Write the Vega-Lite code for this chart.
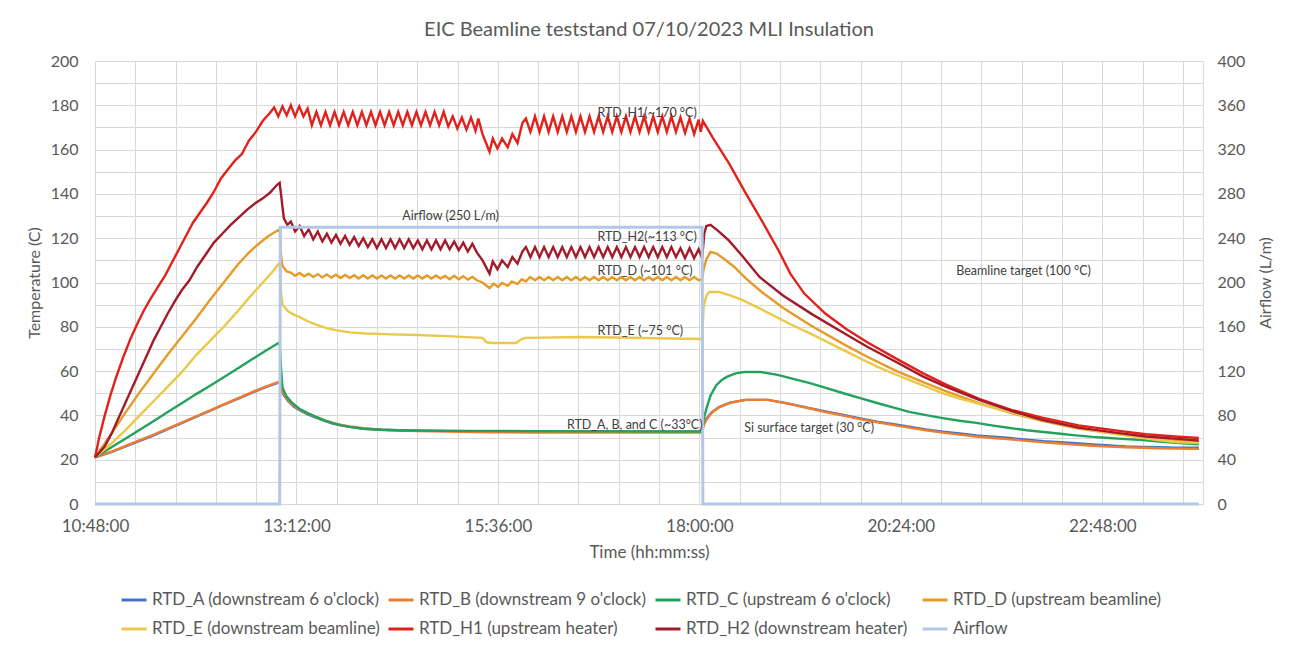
{
  "$schema": "https://vega.github.io/schema/vega-lite/v6.json",
  "autosize": "none",
  "width": 1108,
  "height": 443,
  "padding": {"left": 95, "top": 61, "right": 89, "bottom": 143},
  "background": "white",
  "title": {"text": "EIC Beamline teststand 07/10/2023 MLI Insulation", "font": "Lato", "fontSize": 20, "fontWeight": "normal", "color": "#595959", "anchor": "middle", "frame": "group", "offset": 13},
  "config": {"font": "Lato", "view": {"stroke": null}},
  "datasets": {
    "series": [
      {"s":"A","t":"10:48:00","v":21},{"s":"A","t":"11:00:00","v":23.5},{"s":"A","t":"11:10:00","v":26},{"s":"A","t":"11:20:00","v":28.5},{"s":"A","t":"11:30:00","v":31},{"s":"A","t":"11:40:00","v":33.8},{"s":"A","t":"11:50:00","v":36.5},{"s":"A","t":"12:00:00","v":39.3},{"s":"A","t":"12:10:00","v":42},{"s":"A","t":"12:20:00","v":44.8},{"s":"A","t":"12:30:00","v":47.5},{"s":"A","t":"12:40:00","v":50.2},{"s":"A","t":"12:50:00","v":52.8},{"s":"A","t":"13:00:00","v":55},{"s":"A","t":"13:01:00","v":53},{"s":"A","t":"13:02:00","v":50},{"s":"A","t":"13:06:00","v":46.5},{"s":"A","t":"13:10:00","v":44},{"s":"A","t":"13:14:00","v":42.5},{"s":"A","t":"13:20:00","v":40.5},{"s":"A","t":"13:26:00","v":39},{"s":"A","t":"13:32:00","v":37.5},{"s":"A","t":"13:38:00","v":36.3},{"s":"A","t":"13:44:00","v":35.5},{"s":"A","t":"13:50:00","v":34.8},{"s":"A","t":"14:00:00","v":34},{"s":"A","t":"14:13:00","v":33.5},{"s":"A","t":"14:30:00","v":33.2},{"s":"A","t":"15:00:00","v":33},{"s":"A","t":"15:30:00","v":32.8},{"s":"A","t":"16:00:00","v":32.8},{"s":"A","t":"17:00:00","v":32.7},{"s":"A","t":"18:02:00","v":32.6},{"s":"A","t":"18:03:00","v":36},{"s":"A","t":"18:05:00","v":38.5},{"s":"A","t":"18:09:00","v":41.5},{"s":"A","t":"18:14:00","v":43.8},{"s":"A","t":"18:22:00","v":45.8},{"s":"A","t":"18:33:00","v":47},{"s":"A","t":"18:49:00","v":47},{"s":"A","t":"19:04:00","v":45.3},{"s":"A","t":"19:19:00","v":43.3},{"s":"A","t":"19:31:00","v":41.7},{"s":"A","t":"19:43:00","v":40.2},{"s":"A","t":"19:55:00","v":38.6},{"s":"A","t":"20:07:00","v":37.2},{"s":"A","t":"20:19:00","v":36},{"s":"A","t":"20:30:00","v":34.9},{"s":"A","t":"20:42:00","v":33.7},{"s":"A","t":"20:54:00","v":32.7},{"s":"A","t":"21:06:00","v":31.8},{"s":"A","t":"21:18:00","v":31},{"s":"A","t":"21:30:00","v":30.4},{"s":"A","t":"21:42:00","v":29.8},{"s":"A","t":"21:54:00","v":29},{"s":"A","t":"22:06:00","v":28.3},{"s":"A","t":"22:18:00","v":27.9},{"s":"A","t":"22:29:00","v":27.5},{"s":"A","t":"22:41:00","v":26.9},{"s":"A","t":"22:53:00","v":26.4},{"s":"A","t":"23:05:00","v":26},{"s":"A","t":"23:17:00","v":25.8},{"s":"A","t":"23:29:00","v":25.6},{"s":"A","t":"23:40:00","v":25.4},{"s":"A","t":"23:57:00","v":25.4},
      {"s":"B","t":"10:48:00","v":21},{"s":"B","t":"11:00:00","v":23.7},{"s":"B","t":"11:10:00","v":26.2},{"s":"B","t":"11:20:00","v":28.8},{"s":"B","t":"11:30:00","v":31.3},{"s":"B","t":"11:40:00","v":34},{"s":"B","t":"11:50:00","v":36.7},{"s":"B","t":"12:00:00","v":39.5},{"s":"B","t":"12:10:00","v":42.2},{"s":"B","t":"12:20:00","v":45},{"s":"B","t":"12:30:00","v":47.7},{"s":"B","t":"12:40:00","v":50.4},{"s":"B","t":"12:50:00","v":53},{"s":"B","t":"13:00:00","v":55.3},{"s":"B","t":"13:01:00","v":53.5},{"s":"B","t":"13:02:00","v":50.5},{"s":"B","t":"13:06:00","v":47},{"s":"B","t":"13:10:00","v":44.3},{"s":"B","t":"13:14:00","v":42.8},{"s":"B","t":"13:20:00","v":40.8},{"s":"B","t":"13:26:00","v":39.3},{"s":"B","t":"13:32:00","v":37.8},{"s":"B","t":"13:38:00","v":36.6},{"s":"B","t":"13:44:00","v":35.7},{"s":"B","t":"13:50:00","v":35},{"s":"B","t":"14:00:00","v":34.2},{"s":"B","t":"14:13:00","v":33.5},{"s":"B","t":"14:30:00","v":33},{"s":"B","t":"15:00:00","v":32.7},{"s":"B","t":"15:30:00","v":32.4},{"s":"B","t":"16:00:00","v":32.3},{"s":"B","t":"17:00:00","v":32.3},{"s":"B","t":"18:02:00","v":32.3},{"s":"B","t":"18:03:00","v":35.5},{"s":"B","t":"18:05:00","v":38},{"s":"B","t":"18:09:00","v":41.3},{"s":"B","t":"18:14:00","v":43.6},{"s":"B","t":"18:22:00","v":45.7},{"s":"B","t":"18:33:00","v":47},{"s":"B","t":"18:49:00","v":47},{"s":"B","t":"19:04:00","v":45.2},{"s":"B","t":"19:19:00","v":43.1},{"s":"B","t":"19:31:00","v":41.4},{"s":"B","t":"19:43:00","v":39.9},{"s":"B","t":"19:55:00","v":38.3},{"s":"B","t":"20:07:00","v":36.9},{"s":"B","t":"20:19:00","v":35.6},{"s":"B","t":"20:30:00","v":34.5},{"s":"B","t":"20:42:00","v":33.3},{"s":"B","t":"20:54:00","v":32.2},{"s":"B","t":"21:06:00","v":31.3},{"s":"B","t":"21:18:00","v":30.5},{"s":"B","t":"21:30:00","v":29.8},{"s":"B","t":"21:42:00","v":29.2},{"s":"B","t":"21:54:00","v":28.5},{"s":"B","t":"22:06:00","v":27.8},{"s":"B","t":"22:18:00","v":27.3},{"s":"B","t":"22:29:00","v":26.8},{"s":"B","t":"22:41:00","v":26.3},{"s":"B","t":"22:53:00","v":25.9},{"s":"B","t":"23:05:00","v":25.6},{"s":"B","t":"23:17:00","v":25.4},{"s":"B","t":"23:29:00","v":25.2},{"s":"B","t":"23:40:00","v":25},{"s":"B","t":"23:57:00","v":24.9},
      {"s":"C","t":"10:48:00","v":21},{"s":"C","t":"11:00:00","v":25.7},{"s":"C","t":"11:10:00","v":29.6},{"s":"C","t":"11:20:00","v":33.5},{"s":"C","t":"11:30:00","v":37.5},{"s":"C","t":"11:40:00","v":41.5},{"s":"C","t":"11:50:00","v":45.5},{"s":"C","t":"12:00:00","v":49.5},{"s":"C","t":"12:10:00","v":53.3},{"s":"C","t":"12:20:00","v":57.2},{"s":"C","t":"12:30:00","v":61.2},{"s":"C","t":"12:40:00","v":65.2},{"s":"C","t":"12:50:00","v":69.2},{"s":"C","t":"13:00:00","v":73},{"s":"C","t":"13:01:00","v":61},{"s":"C","t":"13:02:00","v":52.5},{"s":"C","t":"13:05:00","v":48.5},{"s":"C","t":"13:09:00","v":45.6},{"s":"C","t":"13:14:00","v":43},{"s":"C","t":"13:20:00","v":41},{"s":"C","t":"13:26:00","v":39.3},{"s":"C","t":"13:32:00","v":37.8},{"s":"C","t":"13:38:00","v":36.5},{"s":"C","t":"13:44:00","v":35.5},{"s":"C","t":"13:50:00","v":34.8},{"s":"C","t":"14:00:00","v":34},{"s":"C","t":"14:13:00","v":33.5},{"s":"C","t":"14:30:00","v":33.2},{"s":"C","t":"15:00:00","v":33},{"s":"C","t":"15:30:00","v":33},{"s":"C","t":"16:00:00","v":32.9},{"s":"C","t":"17:00:00","v":32.8},{"s":"C","t":"18:02:00","v":32.7},{"s":"C","t":"18:03:00","v":38},{"s":"C","t":"18:05:00","v":43},{"s":"C","t":"18:08:00","v":49},{"s":"C","t":"18:12:00","v":53.5},{"s":"C","t":"18:16:00","v":56},{"s":"C","t":"18:20:00","v":57.5},{"s":"C","t":"18:26:00","v":59},{"s":"C","t":"18:32:00","v":59.6},{"s":"C","t":"18:44:00","v":59.6},{"s":"C","t":"18:56:00","v":58.3},{"s":"C","t":"19:07:00","v":56.5},{"s":"C","t":"19:19:00","v":54.6},{"s":"C","t":"19:31:00","v":52.3},{"s":"C","t":"19:43:00","v":50},{"s":"C","t":"19:55:00","v":47.8},{"s":"C","t":"20:07:00","v":45.6},{"s":"C","t":"20:19:00","v":43.5},{"s":"C","t":"20:30:00","v":41.6},{"s":"C","t":"20:42:00","v":40.1},{"s":"C","t":"20:54:00","v":38.8},{"s":"C","t":"21:06:00","v":37.6},{"s":"C","t":"21:18:00","v":36.6},{"s":"C","t":"21:30:00","v":35.4},{"s":"C","t":"21:42:00","v":34.3},{"s":"C","t":"21:54:00","v":33.3},{"s":"C","t":"22:06:00","v":32.5},{"s":"C","t":"22:18:00","v":31.7},{"s":"C","t":"22:29:00","v":31},{"s":"C","t":"22:41:00","v":30.3},{"s":"C","t":"22:53:00","v":29.8},{"s":"C","t":"23:05:00","v":29.3},{"s":"C","t":"23:17:00","v":28.9},{"s":"C","t":"23:29:00","v":28.2},{"s":"C","t":"23:40:00","v":27.6},{"s":"C","t":"23:57:00","v":27},
      {"s":"D","t":"10:48:00","v":21},{"s":"D","t":"11:00:00","v":32},{"s":"D","t":"11:10:00","v":41.5},{"s":"D","t":"11:20:00","v":50.5},{"s":"D","t":"11:30:00","v":59},{"s":"D","t":"11:40:00","v":67.5},{"s":"D","t":"11:50:00","v":75.5},{"s":"D","t":"12:00:00","v":83.5},{"s":"D","t":"12:10:00","v":92},{"s":"D","t":"12:20:00","v":100},{"s":"D","t":"12:30:00","v":108},{"s":"D","t":"12:38:00","v":113.5},{"s":"D","t":"12:45:00","v":117.5},{"s":"D","t":"12:52:00","v":121},{"s":"D","t":"13:00:00","v":124},{"s":"D","t":"13:01:00","v":112},{"s":"D","t":"13:02:00","v":107.5},{"s":"D","t":"13:05:00","v":105},{"s":"D","t":"13:08:00","v":104.5},{"s":"D","t":"13:11:00","v":103},{"s":"D","t":"13:14:15","v":104.3},{"s":"D","t":"13:17:30","v":102.8},{"s":"D","t":"13:20:45","v":104},{"s":"D","t":"13:24:00","v":102.5},{"s":"D","t":"13:27:15","v":103.8},{"s":"D","t":"13:30:30","v":102.3},{"s":"D","t":"13:33:45","v":103.6},{"s":"D","t":"13:37:00","v":102.2},{"s":"D","t":"13:40:15","v":103.5},{"s":"D","t":"13:43:30","v":102},{"s":"D","t":"13:46:45","v":103.4},{"s":"D","t":"13:50:00","v":102},{"s":"D","t":"13:53:15","v":103.3},{"s":"D","t":"13:56:30","v":101.8},{"s":"D","t":"13:59:45","v":103.3},{"s":"D","t":"14:03:00","v":101.8},{"s":"D","t":"14:06:15","v":103.2},{"s":"D","t":"14:09:30","v":101.8},{"s":"D","t":"14:12:45","v":103.2},{"s":"D","t":"14:16:00","v":101.8},{"s":"D","t":"14:19:15","v":103.2},{"s":"D","t":"14:22:30","v":101.8},{"s":"D","t":"14:25:45","v":103.2},{"s":"D","t":"14:29:00","v":101.8},{"s":"D","t":"14:32:15","v":103.2},{"s":"D","t":"14:35:30","v":101.8},{"s":"D","t":"14:38:45","v":103.2},{"s":"D","t":"14:42:00","v":101.8},{"s":"D","t":"14:45:15","v":103.2},{"s":"D","t":"14:48:30","v":101.8},{"s":"D","t":"14:51:45","v":103.2},{"s":"D","t":"14:55:00","v":101.8},{"s":"D","t":"14:58:15","v":103},{"s":"D","t":"15:01:30","v":101.5},{"s":"D","t":"15:04:45","v":103},{"s":"D","t":"15:08:00","v":101.5},{"s":"D","t":"15:11:15","v":102.8},{"s":"D","t":"15:14:30","v":101.3},{"s":"D","t":"15:17:45","v":102.5},{"s":"D","t":"15:21:00","v":101},{"s":"D","t":"15:25:00","v":100},{"s":"D","t":"15:30:00","v":97.5},{"s":"D","t":"15:33:00","v":99.5},{"s":"D","t":"15:36:00","v":98},{"s":"D","t":"15:39:00","v":99.8},{"s":"D","t":"15:43:00","v":98.5},{"s":"D","t":"15:46:00","v":100.5},{"s":"D","t":"15:50:00","v":99.3},{"s":"D","t":"15:53:00","v":101.5},{"s":"D","t":"15:56:00","v":100.5},{"s":"D","t":"15:59:00","v":102.5},{"s":"D","t":"16:02:30","v":101},{"s":"D","t":"16:05:45","v":102.5},{"s":"D","t":"16:09:00","v":101},{"s":"D","t":"16:12:15","v":102.5},{"s":"D","t":"16:15:30","v":101},{"s":"D","t":"16:18:45","v":102.5},{"s":"D","t":"16:22:00","v":101},{"s":"D","t":"16:25:15","v":102.5},{"s":"D","t":"16:28:30","v":101},{"s":"D","t":"16:31:45","v":102.5},{"s":"D","t":"16:35:00","v":101},{"s":"D","t":"16:38:15","v":102.5},{"s":"D","t":"16:41:30","v":101},{"s":"D","t":"16:44:45","v":102.5},{"s":"D","t":"16:48:00","v":101},{"s":"D","t":"16:51:15","v":102.5},{"s":"D","t":"16:54:30","v":101},{"s":"D","t":"16:57:45","v":102.5},{"s":"D","t":"17:01:00","v":101},{"s":"D","t":"17:04:15","v":102.5},{"s":"D","t":"17:07:30","v":101},{"s":"D","t":"17:10:45","v":102.5},{"s":"D","t":"17:14:00","v":101},{"s":"D","t":"17:17:15","v":102.5},{"s":"D","t":"17:20:30","v":101},{"s":"D","t":"17:23:45","v":102.5},{"s":"D","t":"17:27:00","v":101},{"s":"D","t":"17:30:15","v":102.5},{"s":"D","t":"17:33:30","v":101},{"s":"D","t":"17:36:45","v":102.5},{"s":"D","t":"17:40:00","v":101},{"s":"D","t":"17:43:15","v":102.5},{"s":"D","t":"17:46:30","v":101},{"s":"D","t":"17:49:45","v":102.5},{"s":"D","t":"17:53:00","v":101},{"s":"D","t":"17:56:15","v":102.5},{"s":"D","t":"17:59:30","v":101},{"s":"D","t":"18:02:00","v":101.5},{"s":"D","t":"18:03:00","v":106},{"s":"D","t":"18:05:00","v":110.5},{"s":"D","t":"18:08:00","v":113.8},{"s":"D","t":"18:12:00","v":113.2},{"s":"D","t":"18:18:00","v":110.5},{"s":"D","t":"18:25:00","v":107},{"s":"D","t":"18:33:00","v":102},{"s":"D","t":"18:45:00","v":95.5},{"s":"D","t":"19:00:00","v":88.5},{"s":"D","t":"19:20:00","v":80.5},{"s":"D","t":"19:45:00","v":71.5},{"s":"D","t":"20:00:00","v":66.5},{"s":"D","t":"20:21:00","v":60},{"s":"D","t":"20:40:00","v":55},{"s":"D","t":"20:56:00","v":51},{"s":"D","t":"21:20:00","v":45.5},{"s":"D","t":"21:43:00","v":41},{"s":"D","t":"22:05:00","v":37.5},{"s":"D","t":"22:31:00","v":34},{"s":"D","t":"23:00:00","v":31.5},{"s":"D","t":"23:19:00","v":30.2},{"s":"D","t":"23:40:00","v":29},{"s":"D","t":"23:57:00","v":28},
      {"s":"E","t":"10:48:00","v":21},{"s":"E","t":"11:00:00","v":27.5},{"s":"E","t":"11:10:00","v":33.5},{"s":"E","t":"11:20:00","v":40},{"s":"E","t":"11:30:00","v":46.5},{"s":"E","t":"11:40:00","v":53},{"s":"E","t":"11:50:00","v":59.5},{"s":"E","t":"12:00:00","v":67},{"s":"E","t":"12:10:00","v":73.5},{"s":"E","t":"12:20:00","v":80},{"s":"E","t":"12:30:00","v":87},{"s":"E","t":"12:40:00","v":94.5},{"s":"E","t":"12:48:00","v":100},{"s":"E","t":"12:55:00","v":105},{"s":"E","t":"13:00:00","v":109},{"s":"E","t":"13:01:00","v":95},{"s":"E","t":"13:02:00","v":90},{"s":"E","t":"13:06:00","v":87},{"s":"E","t":"13:10:00","v":85.5},{"s":"E","t":"13:14:00","v":84.5},{"s":"E","t":"13:20:00","v":82.5},{"s":"E","t":"13:26:00","v":81},{"s":"E","t":"13:33:00","v":79.5},{"s":"E","t":"13:40:00","v":78.5},{"s":"E","t":"13:50:00","v":77.5},{"s":"E","t":"14:02:00","v":77},{"s":"E","t":"14:20:00","v":76.6},{"s":"E","t":"14:38:00","v":76.3},{"s":"E","t":"15:00:00","v":75.8},{"s":"E","t":"15:25:00","v":75},{"s":"E","t":"15:28:00","v":73},{"s":"E","t":"15:32:00","v":72.7},{"s":"E","t":"15:49:00","v":72.7},{"s":"E","t":"15:53:00","v":74.5},{"s":"E","t":"15:56:00","v":75},{"s":"E","t":"16:36:00","v":75.4},{"s":"E","t":"17:00:00","v":75.2},{"s":"E","t":"17:30:00","v":74.8},{"s":"E","t":"18:02:00","v":74.5},{"s":"E","t":"18:03:00","v":89},{"s":"E","t":"18:05:00","v":94},{"s":"E","t":"18:07:00","v":95.7},{"s":"E","t":"18:14:00","v":95.7},{"s":"E","t":"18:22:00","v":94.2},{"s":"E","t":"18:31:00","v":92},{"s":"E","t":"18:43:00","v":88.3},{"s":"E","t":"18:55:00","v":84.4},{"s":"E","t":"19:07:00","v":80.6},{"s":"E","t":"19:19:00","v":77},{"s":"E","t":"19:31:00","v":73.3},{"s":"E","t":"19:43:00","v":69.5},{"s":"E","t":"19:55:00","v":65.7},{"s":"E","t":"20:07:00","v":62},{"s":"E","t":"20:19:00","v":58.8},{"s":"E","t":"20:30:00","v":56},{"s":"E","t":"20:42:00","v":53},{"s":"E","t":"20:54:00","v":50},{"s":"E","t":"21:06:00","v":47.6},{"s":"E","t":"21:18:00","v":45.6},{"s":"E","t":"21:30:00","v":43.4},{"s":"E","t":"21:42:00","v":41.5},{"s":"E","t":"21:54:00","v":39.7},{"s":"E","t":"22:06:00","v":38},{"s":"E","t":"22:18:00","v":36.4},{"s":"E","t":"22:29:00","v":35},{"s":"E","t":"22:41:00","v":33.4},{"s":"E","t":"22:53:00","v":32},{"s":"E","t":"23:05:00","v":30.9},{"s":"E","t":"23:17:00","v":29.8},{"s":"E","t":"23:29:00","v":28.8},{"s":"E","t":"23:40:00","v":28},{"s":"E","t":"23:57:00","v":27.5},
      {"s":"H1","t":"10:48:00","v":21},{"s":"H1","t":"10:51:00","v":30},{"s":"H1","t":"10:55:00","v":40},{"s":"H1","t":"10:59:00","v":49},{"s":"H1","t":"11:03:00","v":57},{"s":"H1","t":"11:08:00","v":66},{"s":"H1","t":"11:13:00","v":74},{"s":"H1","t":"11:18:00","v":81},{"s":"H1","t":"11:23:00","v":87.5},{"s":"H1","t":"11:28:00","v":93},{"s":"H1","t":"11:33:00","v":98},{"s":"H1","t":"11:38:00","v":103},{"s":"H1","t":"11:43:00","v":109},{"s":"H1","t":"11:48:00","v":115},{"s":"H1","t":"11:53:00","v":121},{"s":"H1","t":"11:58:00","v":127},{"s":"H1","t":"12:03:00","v":131.5},{"s":"H1","t":"12:08:00","v":136},{"s":"H1","t":"12:13:00","v":141},{"s":"H1","t":"12:18:00","v":147},{"s":"H1","t":"12:23:00","v":151},{"s":"H1","t":"12:28:00","v":155},{"s":"H1","t":"12:33:00","v":158},{"s":"H1","t":"12:38:00","v":164},{"s":"H1","t":"12:43:00","v":168},{"s":"H1","t":"12:48:00","v":173},{"s":"H1","t":"12:53:00","v":176.5},{"s":"H1","t":"12:56:00","v":179},{"s":"H1","t":"12:59:00","v":175},{"s":"H1","t":"13:02:00","v":179.5},{"s":"H1","t":"13:05:00","v":175.5},{"s":"H1","t":"13:08:00","v":180},{"s":"H1","t":"13:11:00","v":175},{"s":"H1","t":"13:14:00","v":179.5},{"s":"H1","t":"13:17:00","v":175},{"s":"H1","t":"13:20:00","v":178.5},{"s":"H1","t":"13:23:00","v":171},{"s":"H1","t":"13:26:15","v":177},{"s":"H1","t":"13:29:30","v":171},{"s":"H1","t":"13:32:45","v":177},{"s":"H1","t":"13:36:00","v":171},{"s":"H1","t":"13:39:15","v":177},{"s":"H1","t":"13:42:30","v":171},{"s":"H1","t":"13:45:45","v":177},{"s":"H1","t":"13:49:00","v":171},{"s":"H1","t":"13:52:15","v":177},{"s":"H1","t":"13:55:30","v":171},{"s":"H1","t":"13:58:45","v":177},{"s":"H1","t":"14:02:00","v":171},{"s":"H1","t":"14:05:15","v":177},{"s":"H1","t":"14:08:30","v":171},{"s":"H1","t":"14:11:45","v":177},{"s":"H1","t":"14:15:00","v":171},{"s":"H1","t":"14:18:15","v":177},{"s":"H1","t":"14:21:30","v":171},{"s":"H1","t":"14:24:45","v":177},{"s":"H1","t":"14:28:00","v":171},{"s":"H1","t":"14:31:15","v":177},{"s":"H1","t":"14:34:30","v":171},{"s":"H1","t":"14:37:45","v":177},{"s":"H1","t":"14:41:00","v":171},{"s":"H1","t":"14:44:15","v":177},{"s":"H1","t":"14:47:30","v":171},{"s":"H1","t":"14:50:45","v":177},{"s":"H1","t":"14:54:00","v":171},{"s":"H1","t":"14:57:15","v":177},{"s":"H1","t":"15:00:30","v":170.5},{"s":"H1","t":"15:03:45","v":175},{"s":"H1","t":"15:07:00","v":169.5},{"s":"H1","t":"15:10:15","v":174.5},{"s":"H1","t":"15:13:30","v":169},{"s":"H1","t":"15:16:45","v":174.5},{"s":"H1","t":"15:20:00","v":168.5},{"s":"H1","t":"15:22:00","v":174},{"s":"H1","t":"15:25:00","v":167},{"s":"H1","t":"15:30:00","v":159},{"s":"H1","t":"15:32:20","v":165},{"s":"H1","t":"15:35:40","v":160.5},{"s":"H1","t":"15:39:00","v":165},{"s":"H1","t":"15:43:00","v":161},{"s":"H1","t":"15:46:20","v":167},{"s":"H1","t":"15:50:00","v":163},{"s":"H1","t":"15:53:30","v":172},{"s":"H1","t":"15:56:00","v":174},{"s":"H1","t":"15:59:15","v":168},{"s":"H1","t":"16:02:30","v":175},{"s":"H1","t":"16:05:45","v":168},{"s":"H1","t":"16:09:00","v":175},{"s":"H1","t":"16:12:15","v":168},{"s":"H1","t":"16:15:30","v":175},{"s":"H1","t":"16:18:45","v":168},{"s":"H1","t":"16:22:00","v":175},{"s":"H1","t":"16:25:15","v":168},{"s":"H1","t":"16:28:30","v":175},{"s":"H1","t":"16:31:45","v":168},{"s":"H1","t":"16:35:00","v":175},{"s":"H1","t":"16:38:15","v":168},{"s":"H1","t":"16:41:30","v":175},{"s":"H1","t":"16:44:45","v":168},{"s":"H1","t":"16:48:00","v":175},{"s":"H1","t":"16:51:15","v":168},{"s":"H1","t":"16:54:30","v":175},{"s":"H1","t":"16:57:45","v":168},{"s":"H1","t":"17:01:00","v":175},{"s":"H1","t":"17:04:15","v":168},{"s":"H1","t":"17:07:30","v":175},{"s":"H1","t":"17:10:45","v":168},{"s":"H1","t":"17:14:00","v":175},{"s":"H1","t":"17:17:15","v":168},{"s":"H1","t":"17:20:30","v":175},{"s":"H1","t":"17:23:45","v":168},{"s":"H1","t":"17:27:00","v":175},{"s":"H1","t":"17:30:15","v":168},{"s":"H1","t":"17:33:30","v":175},{"s":"H1","t":"17:36:45","v":168},{"s":"H1","t":"17:40:00","v":175},{"s":"H1","t":"17:43:15","v":168},{"s":"H1","t":"17:46:30","v":174.5},{"s":"H1","t":"17:49:45","v":167.5},{"s":"H1","t":"17:53:00","v":174},{"s":"H1","t":"17:56:15","v":167},{"s":"H1","t":"17:59:30","v":173.5},{"s":"H1","t":"18:01:00","v":168},{"s":"H1","t":"18:02:30","v":173},{"s":"H1","t":"18:10:00","v":165},{"s":"H1","t":"18:21:00","v":154},{"s":"H1","t":"18:33:00","v":140.5},{"s":"H1","t":"18:45:00","v":127.5},{"s":"H1","t":"18:57:00","v":114},{"s":"H1","t":"19:05:00","v":104},{"s":"H1","t":"19:15:00","v":95},{"s":"H1","t":"19:30:00","v":86},{"s":"H1","t":"19:45:00","v":79},{"s":"H1","t":"20:00:00","v":73},{"s":"H1","t":"20:21:00","v":65.5},{"s":"H1","t":"20:40:00","v":59},{"s":"H1","t":"20:56:00","v":54},{"s":"H1","t":"21:20:00","v":47.5},{"s":"H1","t":"21:43:00","v":42.5},{"s":"H1","t":"22:05:00","v":39},{"s":"H1","t":"22:31:00","v":35.5},{"s":"H1","t":"23:00:00","v":33},{"s":"H1","t":"23:19:00","v":31.5},{"s":"H1","t":"23:40:00","v":30.5},{"s":"H1","t":"23:57:00","v":29.8},
      {"s":"H2","t":"10:48:00","v":21},{"s":"H2","t":"10:55:00","v":26},{"s":"H2","t":"11:00:00","v":32},{"s":"H2","t":"11:05:00","v":39},{"s":"H2","t":"11:10:00","v":46},{"s":"H2","t":"11:15:00","v":53},{"s":"H2","t":"11:20:00","v":60},{"s":"H2","t":"11:25:00","v":67},{"s":"H2","t":"11:30:00","v":74},{"s":"H2","t":"11:35:00","v":80},{"s":"H2","t":"11:40:00","v":86},{"s":"H2","t":"11:45:00","v":91.5},{"s":"H2","t":"11:50:00","v":96.5},{"s":"H2","t":"11:55:30","v":101},{"s":"H2","t":"12:01:00","v":107},{"s":"H2","t":"12:07:30","v":113},{"s":"H2","t":"12:13:00","v":118},{"s":"H2","t":"12:19:00","v":122},{"s":"H2","t":"12:25:00","v":126},{"s":"H2","t":"12:31:00","v":129.5},{"s":"H2","t":"12:37:00","v":133},{"s":"H2","t":"12:43:00","v":136},{"s":"H2","t":"12:48:00","v":138},{"s":"H2","t":"12:53:00","v":140.5},{"s":"H2","t":"12:58:00","v":144},{"s":"H2","t":"13:00:00","v":145},{"s":"H2","t":"13:01:30","v":137},{"s":"H2","t":"13:03:00","v":129},{"s":"H2","t":"13:05:30","v":126},{"s":"H2","t":"13:08:00","v":127.5},{"s":"H2","t":"13:11:00","v":123},{"s":"H2","t":"13:14:15","v":125.5},{"s":"H2","t":"13:17:30","v":121},{"s":"H2","t":"13:20:45","v":124},{"s":"H2","t":"13:24:00","v":119.5},{"s":"H2","t":"13:27:15","v":123},{"s":"H2","t":"13:30:30","v":118.5},{"s":"H2","t":"13:33:45","v":122},{"s":"H2","t":"13:37:00","v":118},{"s":"H2","t":"13:40:15","v":121.5},{"s":"H2","t":"13:43:30","v":117.5},{"s":"H2","t":"13:46:45","v":121},{"s":"H2","t":"13:50:00","v":117},{"s":"H2","t":"13:53:15","v":120.5},{"s":"H2","t":"13:56:30","v":116.5},{"s":"H2","t":"13:59:45","v":120},{"s":"H2","t":"14:03:00","v":116},{"s":"H2","t":"14:06:15","v":119.5},{"s":"H2","t":"14:09:30","v":115.5},{"s":"H2","t":"14:12:45","v":119.5},{"s":"H2","t":"14:16:00","v":115.5},{"s":"H2","t":"14:19:15","v":119.5},{"s":"H2","t":"14:22:30","v":115.5},{"s":"H2","t":"14:25:45","v":119.5},{"s":"H2","t":"14:29:00","v":115.5},{"s":"H2","t":"14:32:15","v":119.5},{"s":"H2","t":"14:35:30","v":115.5},{"s":"H2","t":"14:38:45","v":119},{"s":"H2","t":"14:42:00","v":115},{"s":"H2","t":"14:45:15","v":119},{"s":"H2","t":"14:48:30","v":115},{"s":"H2","t":"14:51:45","v":119},{"s":"H2","t":"14:55:00","v":115},{"s":"H2","t":"14:58:15","v":119},{"s":"H2","t":"15:01:30","v":115},{"s":"H2","t":"15:04:45","v":118.5},{"s":"H2","t":"15:08:00","v":114.5},{"s":"H2","t":"15:11:15","v":118},{"s":"H2","t":"15:14:30","v":114},{"s":"H2","t":"15:17:45","v":117.5},{"s":"H2","t":"15:21:00","v":113.5},{"s":"H2","t":"15:25:00","v":110},{"s":"H2","t":"15:30:00","v":104},{"s":"H2","t":"15:32:20","v":109.5},{"s":"H2","t":"15:35:40","v":106},{"s":"H2","t":"15:39:00","v":110},{"s":"H2","t":"15:43:00","v":107},{"s":"H2","t":"15:46:20","v":111.5},{"s":"H2","t":"15:50:00","v":108.5},{"s":"H2","t":"15:53:30","v":114},{"s":"H2","t":"15:56:00","v":116},{"s":"H2","t":"15:59:15","v":111.5},{"s":"H2","t":"16:02:30","v":116},{"s":"H2","t":"16:05:45","v":111.5},{"s":"H2","t":"16:09:00","v":116},{"s":"H2","t":"16:12:15","v":111.5},{"s":"H2","t":"16:15:30","v":116},{"s":"H2","t":"16:18:45","v":111.5},{"s":"H2","t":"16:22:00","v":116},{"s":"H2","t":"16:25:15","v":111.5},{"s":"H2","t":"16:28:30","v":116},{"s":"H2","t":"16:31:45","v":111.5},{"s":"H2","t":"16:35:00","v":116},{"s":"H2","t":"16:38:15","v":111.5},{"s":"H2","t":"16:41:30","v":116},{"s":"H2","t":"16:44:45","v":111.5},{"s":"H2","t":"16:48:00","v":116},{"s":"H2","t":"16:51:15","v":111.5},{"s":"H2","t":"16:54:30","v":116},{"s":"H2","t":"16:57:45","v":111.5},{"s":"H2","t":"17:01:00","v":116},{"s":"H2","t":"17:04:15","v":111.5},{"s":"H2","t":"17:07:30","v":116},{"s":"H2","t":"17:10:45","v":111.5},{"s":"H2","t":"17:14:00","v":116},{"s":"H2","t":"17:17:15","v":111.5},{"s":"H2","t":"17:20:30","v":116},{"s":"H2","t":"17:23:45","v":111.5},{"s":"H2","t":"17:27:00","v":116},{"s":"H2","t":"17:30:15","v":111.5},{"s":"H2","t":"17:33:30","v":116},{"s":"H2","t":"17:36:45","v":111.5},{"s":"H2","t":"17:40:00","v":116},{"s":"H2","t":"17:43:15","v":111.5},{"s":"H2","t":"17:46:30","v":115.5},{"s":"H2","t":"17:49:45","v":111},{"s":"H2","t":"17:53:00","v":115.5},{"s":"H2","t":"17:56:15","v":111},{"s":"H2","t":"17:59:30","v":115},{"s":"H2","t":"18:02:00","v":111},{"s":"H2","t":"18:03:30","v":122},{"s":"H2","t":"18:05:00","v":125.5},{"s":"H2","t":"18:08:00","v":126},{"s":"H2","t":"18:14:00","v":123},{"s":"H2","t":"18:21:00","v":119},{"s":"H2","t":"18:30:00","v":112.5},{"s":"H2","t":"18:43:00","v":102.5},{"s":"H2","t":"19:00:00","v":94},{"s":"H2","t":"19:21:00","v":85.5},{"s":"H2","t":"19:45:00","v":76.5},{"s":"H2","t":"20:00:00","v":71},{"s":"H2","t":"20:21:00","v":64},{"s":"H2","t":"20:40:00","v":57.5},{"s":"H2","t":"20:56:00","v":53},{"s":"H2","t":"21:20:00","v":47},{"s":"H2","t":"21:43:00","v":42},{"s":"H2","t":"22:05:00","v":38},{"s":"H2","t":"22:31:00","v":34.5},{"s":"H2","t":"23:00:00","v":32},{"s":"H2","t":"23:19:00","v":30.5},{"s":"H2","t":"23:40:00","v":29.5},{"s":"H2","t":"23:57:00","v":28.7}
    ],
    "airflow": [
      {"s":"Airflow","t":"10:48:00","v":0},{"s":"Airflow","t":"13:00:00","v":0},{"s":"Airflow","t":"13:00:30","v":250},{"s":"Airflow","t":"18:02:00","v":250},{"s":"Airflow","t":"18:02:30","v":0},{"s":"Airflow","t":"23:57:00","v":0}
    ],
    "notes": [
      {"label":"RTD_H1(~170 °C)","t":"16:47:06","v":176.3},
      {"label":"Airflow (250 L/m)","t":"14:27:42","v":130},
      {"label":"RTD_H2(~113 °C)","t":"16:47:06","v":120.5},
      {"label":"RTD_D (~101 °C)","t":"16:47:06","v":105},
      {"label":"Beamline target (100 °C)","t":"21:03:36","v":105},
      {"label":"RTD_E (~75 °C)","t":"16:47:06","v":78.1},
      {"label":"RTD_A, B, and C (~33°C)","t":"16:25:18","v":35.7},
      {"label":"Si surface target (30 °C)","t":"18:32:06","v":34.3}
    ]
  },
  "resolve": {"scale": {"y": "independent"}},
  "layer": [
    {
      "data": {"name": "series", "format": {"parse": {"t": "utc:'%H:%M:%S'"}}},
      "mark": {"type": "line", "strokeWidth": 2.4},
      "encoding": {
        "x": {"field": "t", "type": "temporal",
          "scale": {"type": "utc", "domain": [{"year":1900,"month":1,"date":1,"hours":10,"minutes":48,"utc":true},{"year":1900,"month":1,"date":2,"hours":0,"utc":true}]},
          "axis": {"orient": "bottom", "title": "Time (hh:mm:ss)", "titleFont": "Lato", "titleFontSize": 17, "titleFontWeight": "normal", "titleColor": "#595959", "titlePadding": 10,
            "values": [
              {"year":1900,"month":1,"date":1,"hours":10,"minutes":48,"seconds":0,"utc":true},
              {"year":1900,"month":1,"date":1,"hours":11,"minutes":16,"seconds":48,"utc":true},
              {"year":1900,"month":1,"date":1,"hours":11,"minutes":45,"seconds":36,"utc":true},
              {"year":1900,"month":1,"date":1,"hours":12,"minutes":14,"seconds":24,"utc":true},
              {"year":1900,"month":1,"date":1,"hours":12,"minutes":43,"seconds":12,"utc":true},
              {"year":1900,"month":1,"date":1,"hours":13,"minutes":12,"seconds":0,"utc":true},
              {"year":1900,"month":1,"date":1,"hours":13,"minutes":40,"seconds":48,"utc":true},
              {"year":1900,"month":1,"date":1,"hours":14,"minutes":9,"seconds":36,"utc":true},
              {"year":1900,"month":1,"date":1,"hours":14,"minutes":38,"seconds":24,"utc":true},
              {"year":1900,"month":1,"date":1,"hours":15,"minutes":7,"seconds":12,"utc":true},
              {"year":1900,"month":1,"date":1,"hours":15,"minutes":36,"seconds":0,"utc":true},
              {"year":1900,"month":1,"date":1,"hours":16,"minutes":4,"seconds":48,"utc":true},
              {"year":1900,"month":1,"date":1,"hours":16,"minutes":33,"seconds":36,"utc":true},
              {"year":1900,"month":1,"date":1,"hours":17,"minutes":2,"seconds":24,"utc":true},
              {"year":1900,"month":1,"date":1,"hours":17,"minutes":31,"seconds":12,"utc":true},
              {"year":1900,"month":1,"date":1,"hours":18,"minutes":0,"seconds":0,"utc":true},
              {"year":1900,"month":1,"date":1,"hours":18,"minutes":28,"seconds":48,"utc":true},
              {"year":1900,"month":1,"date":1,"hours":18,"minutes":57,"seconds":36,"utc":true},
              {"year":1900,"month":1,"date":1,"hours":19,"minutes":26,"seconds":24,"utc":true},
              {"year":1900,"month":1,"date":1,"hours":19,"minutes":55,"seconds":12,"utc":true},
              {"year":1900,"month":1,"date":1,"hours":20,"minutes":24,"seconds":0,"utc":true},
              {"year":1900,"month":1,"date":1,"hours":20,"minutes":52,"seconds":48,"utc":true},
              {"year":1900,"month":1,"date":1,"hours":21,"minutes":21,"seconds":36,"utc":true},
              {"year":1900,"month":1,"date":1,"hours":21,"minutes":50,"seconds":24,"utc":true},
              {"year":1900,"month":1,"date":1,"hours":22,"minutes":19,"seconds":12,"utc":true},
              {"year":1900,"month":1,"date":1,"hours":22,"minutes":48,"seconds":0,"utc":true},
              {"year":1900,"month":1,"date":1,"hours":23,"minutes":16,"seconds":48,"utc":true},
              {"year":1900,"month":1,"date":1,"hours":23,"minutes":45,"seconds":36,"utc":true}
            ],
            "labelExpr": "indexof(['10:48:00','13:12:00','15:36:00','18:00:00','20:24:00','22:48:00'], utcFormat(datum.value, '%H:%M:%S')) >= 0 ? utcFormat(datum.value, '%H:%M:%S') : ''",
            "labelFont": "Lato", "labelFontSize": 17, "labelColor": "#595959", "labelPadding": 14, "labelFlush": false, "labelOverlap": false,
            "ticks": false, "domain": true, "domainColor": "#d9d9d9", "domainWidth": 1,
            "grid": true, "gridColor": "#d9d9d9", "gridWidth": 1}
        },
        "y": {"field": "v", "type": "quantitative",
          "scale": {"domain": [0, 200], "nice": false, "zero": true},
          "axis": {"orient": "left", "values": [0,20,40,60,80,100,120,140,160,180,200], "title": "Temperature (C)", "titleFont": "Lato", "titleFontSize": 16, "titleFontWeight": "normal", "titleColor": "#595959", "titlePadding": 8,
            "labelFont": "Lato", "labelFontSize": 16, "labelColor": "#595959", "labelPadding": 17, "ticks": false, "domain": false, "grid": false}
        },
        "color": {"field": "s", "type": "nominal",
          "scale": {"domain": ["A","B","C","D","E","H1","H2","Airflow"], "range": ["#4472C4","#ED7D31","#21A35B","#E69A28","#EBC84A","#E3211C","#A31B2A","#B4C7E7"]},
          "legend": {"orient": "none", "legendX": 25, "legendY": 525, "direction": "horizontal", "columns": 4, "gridAlign": "all", "columnPadding": 2, "rowPadding": 7, "symbolType": "stroke", "symbolStrokeWidth": 3, "symbolSize": 625, "labelFont": "Lato", "labelFontSize": 17, "labelColor": "#595959", "labelOffset": 4, "labelLimit": 400, "title": null,
            "labelExpr": "datum.label == 'A' ? \"RTD_A (downstream 6 o'clock)\" : datum.label == 'B' ? \"RTD_B (downstream 9 o'clock)\" : datum.label == 'C' ? \"RTD_C (upstream 6 o'clock)\" : datum.label == 'D' ? 'RTD_D (upstream beamline)' : datum.label == 'E' ? 'RTD_E (downstream beamline)' : datum.label == 'H1' ? 'RTD_H1 (upstream heater)' : datum.label == 'H2' ? 'RTD_H2 (downstream heater)' : 'Airflow'"}
        }
      }
    },
    {
      "data": {"name": "airflow", "format": {"parse": {"t": "utc:'%H:%M:%S'"}}},
      "mark": {"type": "line", "strokeWidth": 3},
      "encoding": {
        "x": {"field": "t", "type": "temporal", "scale": {"type": "utc"}},
        "y": {"field": "v", "type": "quantitative",
          "scale": {"domain": [0, 400], "nice": false, "zero": true},
          "axis": {"orient": "right", "values": [0,20,40,60,80,100,120,140,160,180,200,220,240,260,280,300,320,340,360,380,400],
            "labelExpr": "datum.value % 40 == 0 ? datum.label : ''",
            "title": "Airflow (L/m)", "titleFont": "Lato", "titleFontSize": 16, "titleFontWeight": "normal", "titleColor": "#595959", "titleAngle": -90, "titleBaseline": "middle", "titleAlign": "center", "titleX": 62, "titleY": 221.5,
            "labelFont": "Lato", "labelFontSize": 16, "labelColor": "#595959", "labelPadding": 14, "ticks": false, "domain": true, "domainColor": "#d9d9d9",
            "grid": true, "gridColor": "#d9d9d9", "gridWidth": 1}
        },
        "color": {"field": "s", "type": "nominal", "legend": null}
      }
    },
    {
      "mark": {"type": "rule", "color": "#C0504D", "strokeWidth": 1.5, "strokeDash": [2, 2]},
      "encoding": {"y": {"datum": 100, "type": "quantitative", "scale": {"domain": [0, 200], "nice": false}, "axis": null}}
    },
    {
      "mark": {"type": "rule", "color": "#D45BD4", "strokeWidth": 1.5, "strokeDash": [2, 2]},
      "encoding": {"y": {"datum": 30, "type": "quantitative", "scale": {"domain": [0, 200], "nice": false}, "axis": null}}
    },
    {
      "data": {"name": "notes", "format": {"parse": {"t": "utc:'%H:%M:%S'"}}},
      "mark": {"type": "text", "align": "left", "baseline": "middle", "font": "Lato", "fontSize": 12.5, "color": "#404040"},
      "encoding": {
        "x": {"field": "t", "type": "temporal", "scale": {"type": "utc"}},
        "y": {"field": "v", "type": "quantitative", "scale": {"domain": [0, 200], "nice": false}, "axis": null},
        "text": {"field": "label"}
      }
    }
  ]
}
